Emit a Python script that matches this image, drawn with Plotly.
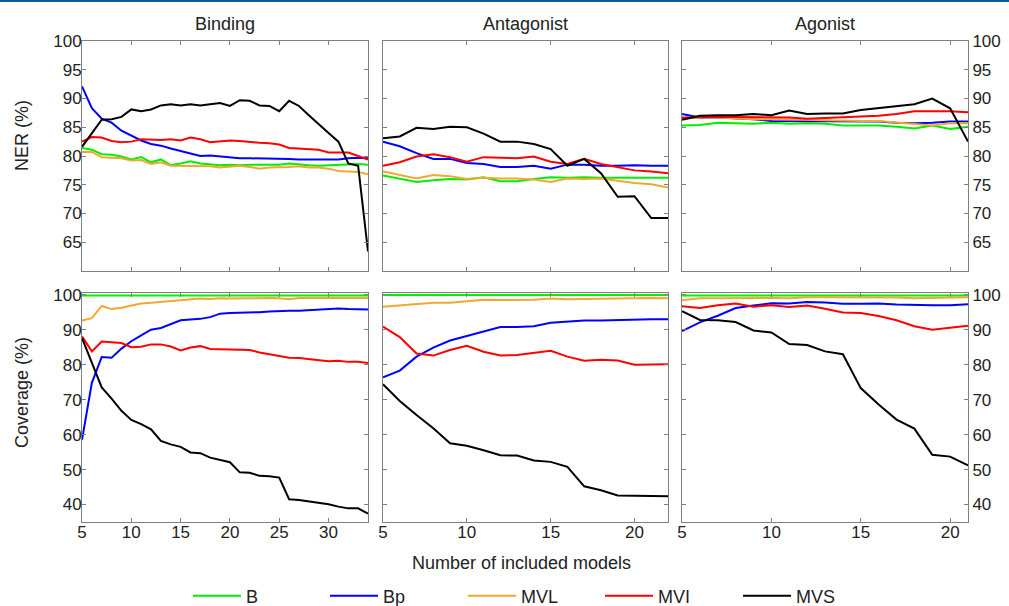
import plotly.graph_objects as go

# ---------------- data ----------------
series_names = ["B", "Bp", "MVL", "MVI", "MVS"]
series_colors = ["#00ee00", "#0000ff", "#f0a830", "#ff0000", "#000000"]
panel_titles = ["Binding", "Antagonist", "Agonist"]

x_binding = list(range(5, 35))
x_antagonist = list(range(5, 23))
x_agonist = list(range(5, 22))

# NER (%) - Binding
ner_binding_B = [81.4, 81.1, 80.3, 80.2, 79.9, 79.4, 79.8, 78.9, 79.4, 78.4, 78.7, 79.1, 78.7, 78.5, 78.4,
                 78.5, 78.4, 78.5, 78.5, 78.5, 78.5, 78.7, 78.5, 78.4, 78.3, 78.4, 78.4, 78.6, 78.6, 78.5]
ner_binding_Bp = [92.1, 88.3, 86.5, 85.8, 84.4, 83.6, 82.7, 82.1, 81.8, 81.3, 80.9, 80.4, 80.0, 80.1, 79.9,
                  79.7, 79.6, 79.6, 79.6, 79.6, 79.5, 79.5, 79.4, 79.4, 79.4, 79.4, 79.4, 79.6, 79.7, 79.6]
ner_binding_MVL = [80.7, 80.7, 79.8, 79.7, 79.6, 79.2, 79.3, 78.6, 78.9, 78.3, 78.3, 78.3, 78.3, 78.2, 78.0,
                   78.1, 78.3, 78.1, 77.8, 78.0, 78.0, 78.1, 78.2, 78.0, 78.0, 77.8, 77.4, 77.3, 77.2, 76.8]
ner_binding_MVI = [82.5, 83.3, 83.2, 82.6, 82.4, 82.5, 82.9, 82.8, 82.8, 82.9, 82.7, 83.2, 82.9, 82.4, 82.5,
                   82.7, 82.6, 82.4, 82.3, 82.2, 82.0, 81.4, 81.3, 81.3, 81.1, 80.6, 80.6, 80.6, 80.0, 79.4]
ner_binding_MVS = [81.6, 83.9, 86.3, 86.4, 86.8, 88.1, 87.8, 88.1, 88.8, 89.0, 88.8, 89.0, 88.8, 89.0, 89.2,
                   88.7, 89.7, 89.6, 88.8, 88.7, 87.8, 89.6, 88.7, 87.1, 85.5, 84.0, 82.5, 78.7, 78.3, 63.4]

# NER (%) - Antagonist
ner_antagonist_B = [76.6, 76.0, 75.5, 75.8, 76.0, 75.9, 76.3, 75.6, 75.6, 76.0, 76.3, 76.2, 76.3, 76.2, 76.2,
                    76.2, 76.2, 76.2]
ner_antagonist_Bp = [82.5, 81.7, 80.5, 79.5, 79.5, 78.8, 78.6, 78.1, 78.1, 78.3, 77.8, 78.5, 78.5, 78.3, 78.3,
                     78.4, 78.3, 78.3]
ner_antagonist_MVL = [77.3, 76.7, 76.1, 76.7, 76.5, 76.0, 76.2, 76.1, 76.1, 75.9, 75.5, 76.1, 76.0, 76.1, 75.7,
                      75.3, 75.1, 74.5]
ner_antagonist_MVI = [78.3, 78.9, 79.9, 80.3, 79.8, 79.0, 79.8, 79.7, 79.6, 79.9, 79.0, 78.6, 79.5, 78.6, 78.0,
                      77.5, 77.3, 77.0]
ner_antagonist_MVS = [83.1, 83.4, 84.9, 84.7, 85.1, 85.0, 83.9, 82.5, 82.5, 82.1, 81.2, 78.3, 79.5, 77.0, 72.9,
                      73.0, 69.2, 69.2]

# NER (%) - Agonist
ner_agonist_B = [85.3, 85.4, 85.8, 85.7, 85.6, 85.8, 85.6, 85.7, 85.6, 85.3, 85.3, 85.3, 85.1, 84.8, 85.3,
                 84.7, 85.1]
ner_agonist_Bp = [87.3, 86.7, 86.7, 86.6, 86.4, 86.1, 86.1, 86.1, 86.0, 86.0, 86.0, 86.0, 85.8, 85.7, 85.8,
                  86.0, 86.0]
ner_agonist_MVL = [86.5, 86.7, 86.7, 86.5, 86.4, 86.4, 86.4, 86.3, 86.2, 86.1, 86.1, 86.1, 85.8, 85.6, 85.3,
                   85.7, 85.7]
ner_agonist_MVI = [86.7, 86.8, 86.8, 86.8, 86.8, 86.7, 86.7, 86.5, 86.6, 86.8, 86.9, 87.0, 87.3, 87.8, 87.8,
                   87.8, 87.6]
ner_agonist_MVS = [86.3, 87.0, 87.1, 87.1, 87.3, 87.1, 87.9, 87.3, 87.4, 87.4, 88.0, 88.3, 88.7, 89.0, 90.0,
                   88.3, 82.5]

# Coverage (%) - Binding
cov_binding_B = [99.8] * 30
cov_binding_Bp = [58.5, 74.8, 82.2, 82.0, 84.6, 86.7, 88.4, 90.0, 90.5, 91.6, 92.7, 92.9, 93.1, 93.6, 94.6,
                  94.8, 94.8, 94.9, 95.0, 95.2, 95.4, 95.4, 95.4, 95.6, 95.7, 95.9, 96.1, 95.9, 95.8, 95.8]
cov_binding_MVL = [92.6, 93.3, 96.8, 95.9, 96.3, 97.0, 97.5, 97.7, 97.9, 98.2, 98.3, 98.5, 98.9, 98.8, 99.0,
                   98.9, 99.0, 99.0, 99.0, 99.1, 99.0, 98.7, 99.1, 99.1, 99.0, 99.1, 99.1, 99.1, 98.9, 99.1]
cov_binding_MVI = [88.1, 83.8, 86.6, 86.5, 86.2, 85.0, 85.1, 85.8, 85.8, 85.2, 84.1, 84.9, 85.3, 84.5, 84.4,
                   84.4, 84.4, 84.2, 83.5, 83.0, 82.5, 82.0, 81.9, 81.6, 81.2, 81.0, 81.1, 80.8, 80.8, 80.5]
cov_binding_MVS = [87.6, 80.7, 73.5, 70.3, 66.8, 64.2, 63.0, 61.5, 58.2, 57.2, 56.5, 54.9, 54.7, 53.4, 52.7,
                   52.1, 49.2, 49.1, 48.2, 48.1, 47.7, 41.5, 41.3, 40.9, 40.6, 40.1, 39.4, 38.9, 38.9, 37.4]

# Coverage (%) - Antagonist
cov_antagonist_B = [99.9] * 18
cov_antagonist_Bp = [76.4, 78.3, 82.3, 84.9, 86.9, 88.2, 89.4, 90.8, 90.8, 91.0, 92.0, 92.4, 92.6, 92.6, 92.8,
                     93.0, 93.0, 93.0]
cov_antagonist_MVL = [96.6, 97.0, 97.5, 97.7, 97.7, 98.2, 98.6, 98.5, 98.5, 98.6, 98.9, 98.7, 98.8, 98.8, 98.9,
                      99.0, 99.1, 99.0]
cov_antagonist_MVI = [90.9, 87.9, 83.2, 82.6, 84.2, 85.4, 83.7, 82.6, 82.8, 83.5, 84.0, 82.3, 81.1, 81.4, 81.2,
                      80.0, 80.0, 80.1]
cov_antagonist_MVS = [74.4, 69.6, 65.6, 61.8, 57.5, 56.8, 55.5, 54.1, 54.0, 52.6, 52.2, 50.8, 45.2, 44.1, 42.6,
                      42.5, 42.4, 42.4]

# Coverage (%) - Agonist
cov_agonist_B = [99.8] * 17
cov_agonist_Bp = [89.6, 92.1, 94.0, 96.2, 96.9, 97.6, 97.5, 97.9, 97.8, 97.4, 97.4, 97.5, 97.2, 97.0, 97.0,
                  97.0, 97.3]
cov_agonist_MVL = [98.4, 99.0, 99.0, 99.1, 99.1, 99.1, 99.0, 99.3, 99.3, 99.3, 99.3, 99.3, 99.2, 99.0, 99.1,
                   99.1, 99.3]
cov_agonist_MVI = [96.7, 96.2, 97.0, 97.5, 96.6, 97.0, 96.5, 96.9, 96.0, 94.9, 94.8, 93.9, 92.7, 91.0, 90.0,
                   90.5, 91.1]
cov_agonist_MVS = [95.3, 92.8, 92.7, 92.2, 89.8, 89.2, 85.9, 85.6, 83.8, 83.0, 73.3, 68.6, 64.3, 61.7, 54.2,
                   53.7, 51.2]

ner_ticks = [65, 70, 75, 80, 85, 90, 95, 100]
cov_ticks = [40, 50, 60, 70, 80, 90, 100]
x_ticks = [5, 10, 15, 20, 25, 30]

# ---------------- figure ----------------
panels = [
    (1, 1, x_binding, [ner_binding_B, ner_binding_Bp, ner_binding_MVL, ner_binding_MVI, ner_binding_MVS]),
    (1, 2, x_antagonist, [ner_antagonist_B, ner_antagonist_Bp, ner_antagonist_MVL, ner_antagonist_MVI, ner_antagonist_MVS]),
    (1, 3, x_agonist, [ner_agonist_B, ner_agonist_Bp, ner_agonist_MVL, ner_agonist_MVI, ner_agonist_MVS]),
    (2, 1, x_binding, [cov_binding_B, cov_binding_Bp, cov_binding_MVL, cov_binding_MVI, cov_binding_MVS]),
    (2, 2, x_antagonist, [cov_antagonist_B, cov_antagonist_Bp, cov_antagonist_MVL, cov_antagonist_MVI, cov_antagonist_MVS]),
    (2, 3, x_agonist, [cov_agonist_B, cov_agonist_Bp, cov_agonist_MVL, cov_agonist_MVI, cov_agonist_MVS]),
]

W, H = 1009, 606
col_px = [(82, 368), (383, 668), (682, 968)]
row_px = [(41, 271), (293, 522)]
x_ranges = [[5, 34], [5, 22], [5, 21]]
y_ranges = [[60, 100], [35, 100.5]]
legend_px = [188, 325, 463, 600, 738]   # left edge of each legend entry
legend_ids = ["legend", "legend2", "legend3", "legend4", "legend5"]

FONT = "Liberation Sans, Arial, sans-serif"
TXT = "#222222"
FRAME = "#808080"

fig = go.Figure()
layout = {}
for i, (row, col, xs, ser) in enumerate(panels):
    idx = i + 1
    xa = "xaxis" if idx == 1 else f"xaxis{idx}"
    ya = "yaxis" if idx == 1 else f"yaxis{idx}"
    xref = "x" if idx == 1 else f"x{idx}"
    yref = "y" if idx == 1 else f"y{idx}"
    for k, (name, color) in enumerate(zip(series_names, series_colors)):
        fig.add_trace(go.Scatter(
            x=xs, y=ser[k], mode="lines", name=name,
            line=dict(color=color, width=2),
            xaxis=xref, yaxis=yref,
            showlegend=(idx == 1), legendgroup=name, legend=legend_ids[k],
        ))
    cx0, cx1 = col_px[col - 1]
    ry0, ry1 = row_px[row - 1]
    layout[xa] = dict(
        domain=[cx0 / W, cx1 / W], range=x_ranges[col - 1], anchor=yref,
        showline=True, linecolor=FRAME, linewidth=1, mirror="ticks",
        ticks="inside", ticklen=4, tickcolor=FRAME, tickvals=x_ticks,
        showticklabels=(row == 2), showgrid=False, zeroline=False, automargin=False,
        ticklabelstandoff=-5,
        tickfont=dict(family=FONT, size=17, color=TXT),
    )
    layout[ya] = dict(
        domain=[1 - ry1 / H, 1 - ry0 / H], range=y_ranges[row - 1], anchor=xref,
        showline=True, linecolor=FRAME, linewidth=1, mirror="ticks",
        ticks="inside", ticklen=4, tickcolor=FRAME,
        tickvals=ner_ticks if row == 1 else cov_ticks,
        showticklabels=(col != 2), side="right" if col == 3 else "left",
        showgrid=False, zeroline=False, automargin=False,
        ticklabelstandoff=-4 if col == 1 else 0,
        tickfont=dict(family=FONT, size=17, color=TXT),
    )

fig.update_layout(**layout)

annotations = []
for c, t in enumerate(panel_titles):
    cx0, cx1 = col_px[c]
    annotations.append(dict(text=t, x=(cx0 + cx1) / 2 / W, y=1 - 24 / H, xref="paper", yref="paper",
                            showarrow=False, font=dict(family=FONT, size=18, color=TXT),
                            xanchor="center", yanchor="middle"))
annotations.append(dict(text="Number of included models", x=521 / W, y=1 - 563 / H, xref="paper", yref="paper",
                        showarrow=False, font=dict(family=FONT, size=18, color=TXT),
                        xanchor="center", yanchor="middle"))
for t, yc in [("NER (%)", 136), ("Coverage (%)", 393)]:
    annotations.append(dict(text=t, x=22 / W, y=1 - yc / H, xref="paper", yref="paper",
                            showarrow=False, textangle=-90, font=dict(family=FONT, size=18, color=TXT),
                            xanchor="center", yanchor="middle"))

legends = {}
for k, lid in enumerate(legend_ids):
    legends[lid] = dict(x=legend_px[k] / W, y=1 - 596 / H, xanchor="left", yanchor="middle",
                        orientation="h", itemwidth=48,
                        font=dict(family=FONT, size=18, color=TXT), bgcolor="rgba(0,0,0,0)",
                        borderwidth=0)

fig.update_layout(
    width=W, height=H,
    margin=dict(l=0, r=0, t=0, b=0, autoexpand=False),
    paper_bgcolor="white", plot_bgcolor="white",
    annotations=annotations,
    showlegend=True,
    shapes=[dict(type="line", xref="paper", yref="paper", x0=0, x1=1, y0=1 - 1 / H, y1=1 - 1 / H,
                 line=dict(color="#0b5aa6", width=2))],
    **legends,
)

fig.write_html("out.html", config={"displayModeBar": False},
               post_script="document.body.style.margin='0';")
